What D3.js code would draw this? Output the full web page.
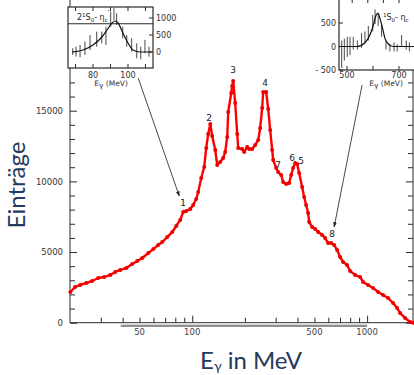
<!DOCTYPE html>
<html><head><meta charset="utf-8">
<script src="https://cdn.jsdelivr.net/npm/d3@7"></script>
<style>html,body{margin:0;padding:0;background:#fff;}svg{display:block;}</style>
</head><body>
<svg id="chart" width="414" height="375"></svg>
<script>
// ---------- main spectrum ----------
const energies = [20.1,21.4,22.9,24.8,26.8,29.0,31.4,34.0,36.3,38.8,
  42.0,45.4,48.5,51.8,56.1,59.9,63.9,67.4,72.0,76.9,
  81.0,85.4,88.8,92.4,97.4,101.3,105.4,108.2,112.6,117.1,
  120.2,123.4,126.8,130.1,135.4,139.0,144.5,150.3,154.4,158.5,
  160.6,167.1,169.3,171.5,176.1,180.8,183.2,193.1,198.2,206.2,
  211.7,220.3,229.1,238.4,244.7,251.2,254.5,264.8,271.9,279.1,
  286.5,290.4,302.0,310.0,322.5,331.1,344.4,358.4,367.9,377.7,
  387.8,398.1,408.7,425.2,436.5,448.2,460.1,466.2,485.0,504.5,
  524.8,553.3,575.4,598.5,622.6,647.7,673.8,700.9,729.1,768.6,
  799.5,854.0,912.0,948.7,1013,1082,1156,1234,1318,1408,
  1484,1544,1649,1761,1830];
const counts = [2170,2530,2670,2810,2950,3160,3230,3380,3590,3730,
  3870,4150,4370,4580,4930,5210,5500,5710,6060,6420,
  6840,7270,7830,7900,8040,8330,8750,9250,10240,11020,
  12360,13350,14060,13210,12220,11160,11370,11650,12080,13140,
  14910,16250,16750,17100,15540,13350,12360,12290,12080,12430,
  12290,12290,12570,12930,13780,15190,16320,16320,15120,13630,
  12220,11510,10950,10660,10450,9960,9810,9880,10450,10950,
  11300,11230,10590,9600,8890,8330,7760,7130,6770,6630,
  6420,6210,5990,5640,5640,5500,5140,4650,4290,4080,
  3660,3380,3230,2880,2670,2460,2170,1960,1750,1390,
  1040,690,330,50,0];

const yTicks = [0,1000,2000,3000,4000,5000,6000,7000,8000,9000,10000,11000,12000,13000,14000,15000,16000,17000];
const yTickLabels = [0,5000,10000,15000];
const xTicks = [30,40,50,60,70,80,90,100,200,300,400,500,600,700,800,900,1000];
const xTickLabels = [50,100,500,1000];
const xLongTicks = [100,1000];

const peakNames = ["1","2","3","4","5","6","7","8"];
const peakE = [88.8,125.0,171.5,261.3,419.6,372.8,310.0,631.0];
const peakC = [8470,14550,17880,17030,11510,11720,11160,6280];

// arrows: [startE, startC, endE, endC]
const arrowStartE = [49.1, 936];
const arrowStartC = [17310, 16820];
const arrowEndE = [84.3, 648];
const arrowEndC = [8960, 6770];

// ---------- inset 1 (2 1S0 - eta_c') ----------
const in1FitE = [68,74.3,80,85.1,88,90.9,92.6,94.3,97.1,100,102.9,106.9,113.7];
const in1FitC = [0,59,206,441,647,853,912,853,559,265,59,0,0];
const in1BarE = [68.4,70.3,72.6,75.4,78.3,82.1,85,87.4,90.1,92,93.5,97,99.3,102.1,105,107.3,109.7,112];
const in1BarLo = [-88,-138,-156,-88,59,156,256,206,744,941,794,403,156,9,-185,-215,-38,-138];
const in1BarHi = [109,156,206,303,500,597,597,744,1185,1285,1138,744,500,403,256,156,353,156];
const in1YTicks = [0,500,1000];
const in1XTicks = [70,80,90,100,110];
const in1XLabels = [80,100];

// ---------- inset 2 (1S0 - eta_c) ----------
const in2FitE = [469,538,569,588,600,612,619,627,638,646,658,677,770];
const in2FitC = [0,0,81,244,430,663,709,593,360,174,58,0,0];
const in2BarE = [479.6,489.7,501,511.5,524,540,556,569,582,599,608,620,633,650,665,681,693,710,728,740];
const in2BarLo = [-454,-298,-221,-181,-65,-65,-28,88,128,321,477,437,205,-65,-105,-105,-105,12,-65,-105];
const in2BarHi = [128,167,205,205,205,128,284,321,437,670,786,709,477,128,51,88,51,244,128,88];
const in2YTicks = [-500,0,500];
const in2XTicks = [500,600,700];
const in2XLabels = [500,700];

// ---------- drawing ----------
const svg = d3.select("#chart");
svg.append("rect").attr("width",414).attr("height",375).attr("fill","#fff");
const ink = "#2a2a2a";
const small = "'DejaVu Sans', sans-serif";

const x = d3.scaleLog().domain([20, 1830]).range([70, 413]);
const y = d3.scaleLinear().domain([0, 15000]).range([322.7, 110.7]);
const yBottom = y(0);

// left axis
svg.append("line").attr("x1",70).attr("x2",70).attr("y1",0).attr("y2",yBottom).attr("stroke",ink);
const gl = svg.append("g").attr("transform","translate(70,0)")
  .call(d3.axisLeft(y).tickValues(yTicks).tickSize(-5).tickPadding(7)
        .tickFormat(d => yTickLabels.includes(d) ? d : ""));
gl.select(".domain").remove();
gl.selectAll(".tick line").attr("stroke",ink).attr("x2", d => yTickLabels.includes(d) ? 7 : 5);
gl.selectAll(".tick text").attr("font-family",small).attr("font-size",8.5).attr("fill","#333");

// right axis
svg.append("line").attr("x1",413).attr("x2",413).attr("y1",70).attr("y2",yBottom).attr("stroke",ink);
const gr = svg.append("g").attr("transform","translate(413,0)")
  .call(d3.axisRight(y).tickValues(yTicks.filter(v => y(v) > 72)).tickSize(-5).tickFormat(""));
gr.select(".domain").remove();
gr.selectAll(".tick line").attr("stroke",ink).attr("x2", d => yTickLabels.includes(d) ? -7 : -5);

// bottom axis
svg.append("line").attr("x1",70).attr("x2",413).attr("y1",yBottom).attr("y2",yBottom).attr("stroke",ink);
const gb = svg.append("g").attr("transform",`translate(0,${yBottom})`)
  .call(d3.axisBottom(x).tickValues(xTicks).tickSize(-5).tickFormat(""));
gb.select(".domain").remove();
gb.selectAll(".tick line").attr("stroke",ink).attr("y2", d => xLongTicks.includes(d) ? -7 : -5);

// grey scale bar and labels below
svg.append("rect").attr("x", x(39)).attr("width", x(1000)-x(39)).attr("y", yBottom+2).attr("height",2.2).attr("fill","#8a8a8a");
svg.append("g").selectAll("text").data(xTickLabels).join("text")
  .attr("x", d => x(d)).attr("y", yBottom + 12).attr("text-anchor","middle")
  .attr("font-family",small).attr("font-size",8.5).attr("fill","#444").text(d => d);

// red spectrum
const pts = energies.map((e,i) => [e, counts[i]]);
svg.append("path").datum(pts)
  .attr("d", d3.line().x(d => x(d[0])).y(d => y(d[1])))
  .attr("fill","none").attr("stroke","#ff0000").attr("stroke-width",2.4).attr("stroke-linejoin","round");
svg.append("g").selectAll("circle").data(pts).join("circle")
  .attr("cx", d => x(d[0])).attr("cy", d => y(d[1])).attr("r",2).attr("fill","#ee0000");

// peak labels
svg.append("g").selectAll("text").data(peakNames).join("text")
  .attr("x", (d,i) => x(peakE[i])).attr("y", (d,i) => y(peakC[i]) + 3.5)
  .attr("text-anchor","middle").attr("font-family",small).attr("font-size",9).attr("fill","#222")
  .text(d => d);

// arrows
const defs = svg.append("defs");
defs.append("marker").attr("id","ah").attr("viewBox","0 0 10 10").attr("refX",9).attr("refY",5)
  .attr("markerWidth",6).attr("markerHeight",6).attr("orient","auto")
  .append("path").attr("d","M0,1.5 L10,5 L0,8.5 Z").attr("fill","#222");
arrowStartE.forEach((e,i) => {
  svg.append("line").attr("x1",x(e)).attr("y1",y(arrowStartC[i]))
    .attr("x2",x(arrowEndE[i])).attr("y2",y(arrowEndC[i]))
    .attr("stroke","#333").attr("stroke-width",0.9).attr("marker-end","url(#ah)");
});

// ---------- inset 1 ----------
const ix1 = d3.scaleLinear().domain([65.7,114.3]).range([68,153]);
const iy1 = d3.scaleLinear().domain([0,1000]).range([52,18]);
const g1 = svg.append("g");
g1.append("rect").attr("x",68).attr("y",7).attr("width",85).attr("height",61).attr("fill","#fff").attr("stroke",ink).attr("stroke-width",1.2);
g1.append("line").attr("x1",68).attr("x2",153).attr("y1",iy1(830)).attr("y2",iy1(830)).attr("stroke",ink).attr("stroke-width",1.1);
in1XTicks.forEach(v => {
  g1.append("line").attr("x1",ix1(v)).attr("x2",ix1(v)).attr("y1",68).attr("y2",64).attr("stroke",ink);
  g1.append("line").attr("x1",ix1(v)).attr("x2",ix1(v)).attr("y1",7).attr("y2",11).attr("stroke",ink);
});
in1YTicks.forEach(v => {
  g1.append("line").attr("x1",153).attr("x2",149).attr("y1",iy1(v)).attr("y2",iy1(v)).attr("stroke",ink);
  g1.append("text").attr("x",156).attr("y",iy1(v)+3).attr("font-family",small).attr("font-size",8).attr("fill","#333").text(v);
});
in1XLabels.forEach(v => {
  g1.append("text").attr("x",ix1(v)).attr("y",78).attr("text-anchor","middle").attr("font-family",small).attr("font-size",8).attr("fill","#333").text(v);
});
in1BarE.forEach((e,i) => {
  g1.append("line").attr("x1",ix1(e)).attr("x2",ix1(e)).attr("y1",iy1(in1BarLo[i])).attr("y2",iy1(in1BarHi[i])).attr("stroke","#333").attr("stroke-width",0.9);
});
g1.append("path").datum(in1FitE.map((e,i)=>[e,in1FitC[i]]))
  .attr("d", d3.line().curve(d3.curveMonotoneX).x(d=>ix1(d[0])).y(d=>iy1(d[1])))
  .attr("fill","none").attr("stroke","#111").attr("stroke-width",1.2);
const t1 = g1.append("text").attr("x",77).attr("y",20).attr("font-family",small).attr("font-size",8).attr("fill","#222");
t1.append("tspan").text("2");
t1.append("tspan").attr("font-size",5.5).attr("dy",-3).text("1");
t1.append("tspan").attr("dy",3).text("S");
t1.append("tspan").attr("font-size",5.5).attr("dy",2).text("0");
t1.append("tspan").attr("dy",-2).text("- η");
t1.append("tspan").attr("font-size",5.5).attr("dy",2).text("c");
t1.append("tspan").attr("dy",-5).text("′");
const e1 = g1.append("text").attr("x",111).attr("y",86).attr("text-anchor","middle").attr("font-family",small).attr("font-size",7.5).attr("fill","#333");
e1.append("tspan").text("E");
e1.append("tspan").attr("dy",1.5).text("γ");
e1.append("tspan").attr("dy",-1.5).text("  (MeV)");

// ---------- inset 2 ----------
const ix2 = d3.scaleLinear().domain([500,700]).range([347,399]);
const iy2 = d3.scaleLinear().domain([-500,500]).range([70,23]);
const g2 = svg.append("g");
g2.append("rect").attr("x",339).attr("y",-5).attr("width",90).attr("height",75).attr("fill","#fff").attr("stroke",ink).attr("stroke-width",1.2);
in2XTicks.forEach(v => {
  g2.append("line").attr("x1",ix2(v)).attr("x2",ix2(v)).attr("y1",70).attr("y2",66).attr("stroke",ink);
});
[520,580,640,700].forEach(v => {
  g2.append("line").attr("x1",ix2(v)).attr("x2",ix2(v)).attr("y1",-5).attr("y2",3).attr("stroke",ink);
});
in2YTicks.forEach(v => {
  g2.append("line").attr("x1",339).attr("x2",343).attr("y1",iy2(v)).attr("y2",iy2(v)).attr("stroke",ink);
  g2.append("text").attr("x",336).attr("y",iy2(v)+3).attr("text-anchor","end").attr("font-family",small).attr("font-size",8).attr("fill","#333").text(v < 0 ? "- " + Math.abs(v) : v);
});
in2XLabels.forEach(v => {
  g2.append("text").attr("x",ix2(v)).attr("y",78).attr("text-anchor","middle").attr("font-family",small).attr("font-size",8).attr("fill","#333").text(v);
});
in2BarE.forEach((e,i) => {
  g2.append("line").attr("x1",ix2(e)).attr("x2",ix2(e)).attr("y1",iy2(in2BarLo[i])).attr("y2",iy2(in2BarHi[i])).attr("stroke","#333").attr("stroke-width",0.9);
});
g2.append("path").datum(in2FitE.map((e,i)=>[e,in2FitC[i]]))
  .attr("d", d3.line().curve(d3.curveMonotoneX).x(d=>ix2(d[0])).y(d=>iy2(d[1])))
  .attr("fill","none").attr("stroke","#111").attr("stroke-width",1.2);
const t2 = g2.append("text").attr("x",383).attr("y",20).attr("font-family",small).attr("font-size",8).attr("fill","#222");
t2.append("tspan").attr("font-size",5.5).attr("dy",-3).text("1");
t2.append("tspan").attr("dy",3).text("S");
t2.append("tspan").attr("font-size",5.5).attr("dy",2).text("0");
t2.append("tspan").attr("dy",-2).text("- η");
t2.append("tspan").attr("font-size",5.5).attr("dy",2).text("c");
const e2 = g2.append("text").attr("x",386).attr("y",86).attr("text-anchor","middle").attr("font-family",small).attr("font-size",7.5).attr("fill","#333");
e2.append("tspan").text("E");
e2.append("tspan").attr("dy",1.5).text("γ");
e2.append("tspan").attr("dy",-1.5).text("  (MeV)");

// ---------- axis titles ----------
const titleColor = "#243a5e";
svg.append("text").attr("transform","translate(25,185) rotate(-90)").attr("text-anchor","middle")
  .attr("font-family","Lato, 'Open Sans', sans-serif").attr("font-size",24).attr("fill",titleColor).text("Einträge");
const xt = svg.append("text").attr("x",251).attr("y",369).attr("text-anchor","middle")
  .attr("font-family","Lato, 'Open Sans', sans-serif").attr("font-size",24).attr("fill",titleColor);
xt.append("tspan").text("E");
xt.append("tspan").attr("font-size",14).attr("dy",2).text("γ");
xt.append("tspan").attr("dy",-2).text(" in MeV");
</script>
</body></html>
